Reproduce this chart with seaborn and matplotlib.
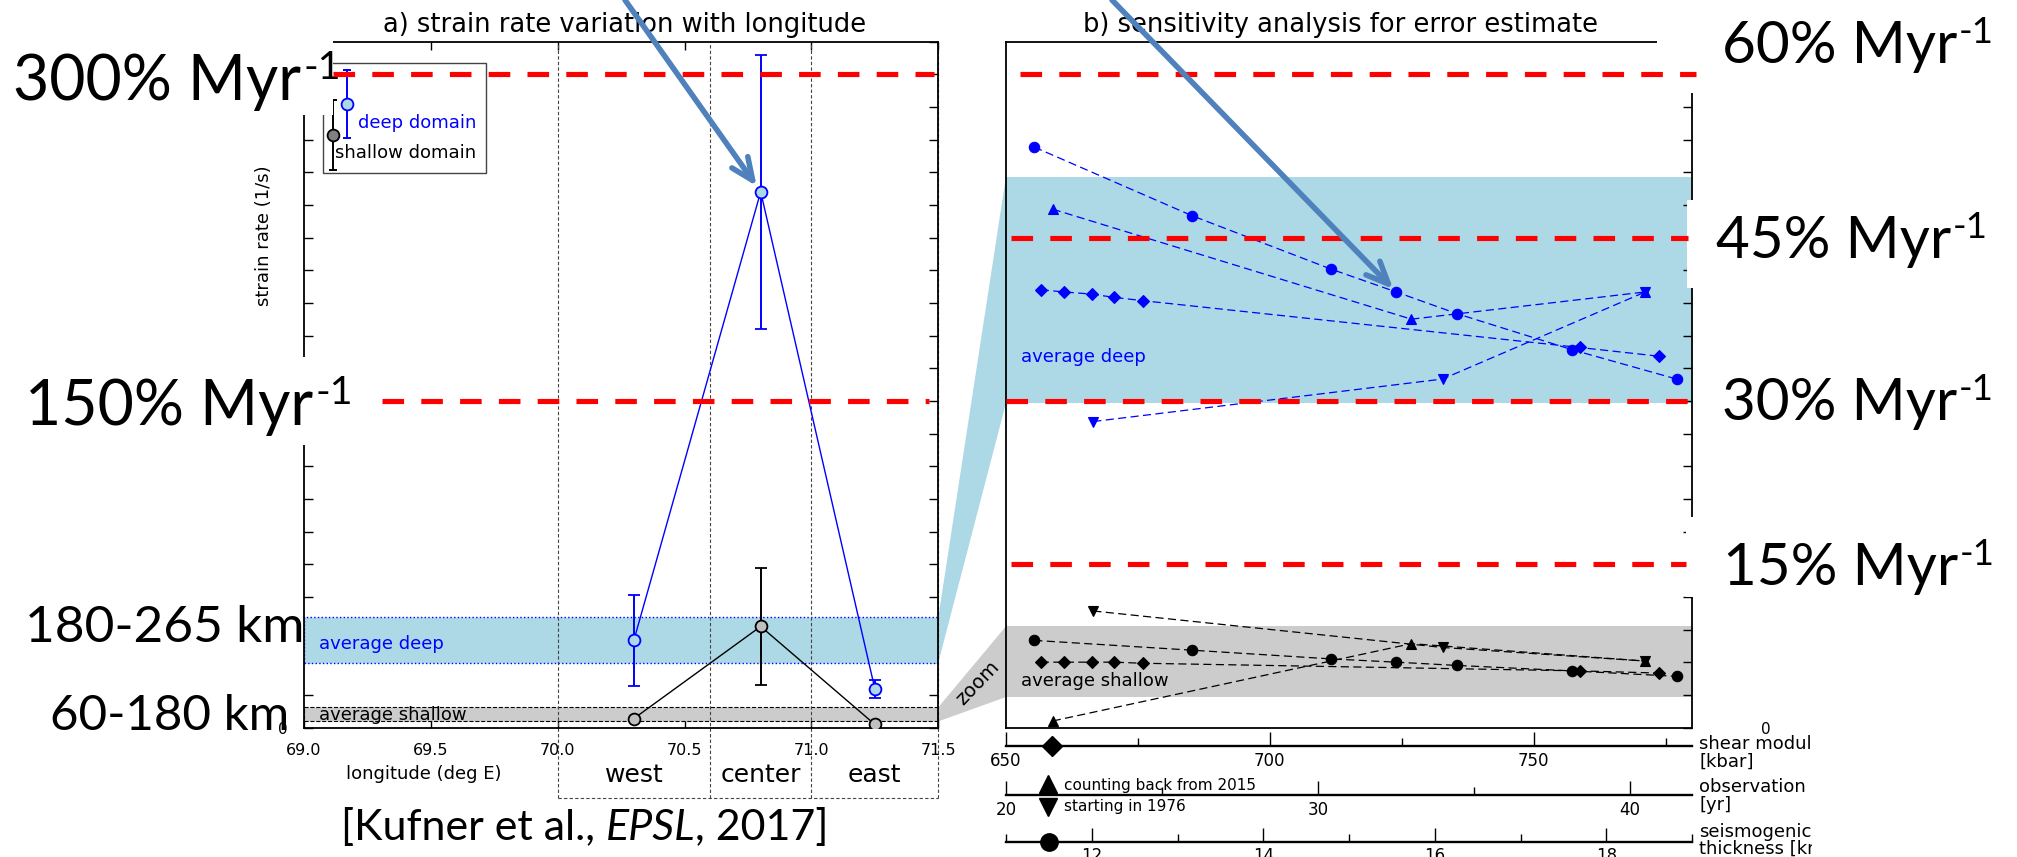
import numpy as np
import pandas as pd
import matplotlib
matplotlib.use("Agg")
import matplotlib.pyplot as plt
import matplotlib.transforms as mtransforms
from matplotlib.lines import Line2D
from matplotlib.patches import Rectangle, Polygon, ConnectionPatch
from matplotlib.ticker import FormatStrFormatter
import seaborn as sns

# ---------------- panel a: strain rate along longitude (% per Myr) ----------------
region_names = ["west", "center", "east"]
region_lon = [70.3, 70.8, 71.25]
region_edges = [70.0, 70.6, 71.0, 71.5]
deep_rate = [40.0, 246.0, 17.7]
deep_err = [21.0, 63.0, 4.2]
shallow_rate = [4.1, 46.4, 1.4]
shallow_err = [0.0, 27.0, 0.0]
avg_deep = [29.8, 50.6]
avg_shallow = [2.8, 9.3]
levels_a = [300, 150]
levels_b = [60, 45, 30, 15]
depth_labels = ["180-265 km", "60-180 km"]

# ---------------- panel b: sensitivity of the estimate (% per Myr) ----------------
shear_kbar = [656.6, 661.0, 666.3, 670.5, 675.9, 758.7, 773.7]
shear_deep = [40.2, 40.0, 39.8, 39.5, 39.2, 34.9, 34.1]
shear_shallow = [6.0, 6.0, 6.0, 6.0, 5.9, 5.2, 5.0]
back_yr = [21.5, 33.0, 40.5]
back_deep = [47.6, 37.5, 40.0]
back_shallow = [0.6, 7.7, 6.1]
start_yr = [22.8, 34.0, 40.5]
start_deep = [28.1, 32.0, 40.0]
start_shallow = [10.7, 7.35, 6.1]
thick_km = [11.33, 13.17, 14.79, 15.55, 16.26, 17.6, 18.82]
thick_deep = [53.3, 47.0, 42.1, 40.0, 38.0, 34.7, 32.0]
thick_shallow = [8.0, 7.1, 6.3, 6.0, 5.7, 5.2, 4.7]

W, H = 2017, 857
sns.set_theme(style="ticks")
plt.rcParams.update({
    "font.family": ["DejaVu Sans"],
    "axes.edgecolor": "black", "xtick.color": "black", "ytick.color": "black",
    "text.color": "black", "axes.labelcolor": "black",
    "axes.linewidth": 1.3,
    "xtick.direction": "in", "ytick.direction": "in",
})

fig = plt.figure(figsize=(W / 100, H / 100), dpi=100)
# pixel coordinates measured from the top-left corner of the canvas
PX = mtransforms.Affine2D().scale(1 / W, -1 / H).translate(0, 1) + fig.transFigure


def box(x0, y0, x1, y1):
    return [x0 / W, 1 - y1 / H, (x1 - x0) / W, (y1 - y0) / H]


ax_a = fig.add_axes(box(304, 41.5, 938.3, 727.5))
ax_b = fig.add_axes(box(1006, 41.5, 1692, 727.5))

# ======================= panel a =======================
ax_a.set_xlim(69.0, 71.5)
ax_a.set_ylim(0, 315)
ax_a.axhspan(*avg_deep, facecolor="lightblue", edgecolor="blue", ls=":", lw=1.0, zorder=1)
ax_a.axhspan(*avg_shallow, facecolor="#cccccc", edgecolor="black", ls="--", lw=0.8, zorder=1)

xt = mtransforms.blended_transform_factory(ax_a.transData, ax_a.transAxes)
y_box = (727.5 - 798.3) / 686
for e in region_edges:
    ax_a.plot([e, e], [y_box, 1], transform=xt, color="#444444", lw=0.8,
              ls=(0, (3, 2)), clip_on=False, zorder=2)
ax_a.plot([region_edges[0], region_edges[-1]], [y_box, y_box], transform=xt,
          color="#444444", lw=0.8, ls=(0, (3, 2)), clip_on=False, zorder=2)
for name, lon in zip(region_names, region_lon):
    ax_a.text(lon, (727.5 - 775) / 686, name, transform=xt, ha="center",
              va="center", fontsize=18)

df_a = pd.DataFrame({
    "lon": region_lon * 2,
    "rate": deep_rate + shallow_rate,
    "err": deep_err + shallow_err,
    "domain": ["deep"] * 3 + ["shallow"] * 3,
})
line_col = {"deep": "blue", "shallow": "black"}
face_col = {"deep": "lightblue", "shallow": "#c0c0c0"}
sns.lineplot(data=df_a, x="lon", y="rate", hue="domain", palette=line_col,
             legend=False, lw=1.0, ax=ax_a, zorder=3, estimator=None, sort=False)
for dom, sub in df_a.groupby("domain"):
    ax_a.errorbar(sub["lon"], sub["rate"], yerr=sub["err"], fmt="o", ms=8.5,
                  mew=1.3, mfc=face_col[dom], mec=line_col[dom],
                  ecolor=line_col[dom], elinewidth=1.4, capsize=4.6,
                  capthick=1.4, zorder=4)

ax_a.text(69.06, 38.3, "average deep", color="blue", fontsize=13, va="center", zorder=5)
ax_a.text(69.06, 5.9, "average shallow", color="black", fontsize=13, va="center", zorder=5)

ax_a.set_xlim(69.0, 71.5)
ax_a.set_ylim(0, 315)
ax_a.set_xticks(np.arange(69.0, 71.51, 0.5))
ax_a.xaxis.set_major_formatter(FormatStrFormatter("%.1f"))
ax_a.tick_params(axis="x", top=True, bottom=True, direction="in", length=6,
                 width=1, labelsize=11.5, pad=11)
ax_a.set_yticks(np.arange(0, 316, 15))
ax_a.set_yticklabels(["0"] + [""] * 21)
ax_a.tick_params(axis="y", left=True, right=True, direction="in", length=6.5,
                 width=1, labelsize=11, pad=12)
ax_a.set_xlabel("longitude (deg E)", fontsize=13)
ax_a.xaxis.set_label_coords(0.189, -0.0685)
ax_a.xaxis.label.set_va("center")
ax_a.set_ylabel("strain rate (1/s)", fontsize=13)
ax_a.yaxis.set_label_coords(-0.0631, 0.717)
ax_a.yaxis.label.set_va("center")
ax_a.set_title("a) strain rate variation with longitude", fontsize=18.5, pad=7,
               x=0.506, y=1.0)

# ======================= panel b =======================
ax_b.set_xlim(650, 780)
ax_b.set_ylim(0, 63)
ax_b.axhspan(*avg_deep, facecolor="lightblue", lw=0, zorder=0.5)
ax_b.axhspan(*avg_shallow, facecolor="#cccccc", lw=0, zorder=0.5)
ax_b.text(652.9, 34.0, "average deep", color="blue", fontsize=13, va="center")
ax_b.text(652.8, 4.3, "average shallow", color="black", fontsize=13, va="center")
ax_b.set_xticks([])
ax_b.set_yticks(np.arange(0, 64, 3))
ax_b.set_yticklabels(["0"] + [""] * 21)
ax_b.tick_params(axis="y", left=False, right=True, labelleft=False,
                 labelright=True, direction="in", length=6.5, width=1,
                 labelsize=11, pad=50)
ax_b.set_title("b) sensitivity analysis for error estimate", fontsize=18.5, pad=7,
               x=0.488, y=1.0)

ax_yr = ax_b.twiny()
ax_km = ax_b.twiny()
dash = (0, (6.5, 3.5))


def sens(ax, x, y, marker, color, ms):
    sns.lineplot(x=x, y=y, ax=ax, color=color, marker=marker, markersize=ms,
                 markeredgecolor=color, markeredgewidth=0.8, linestyle=dash,
                 lw=0.9, estimator=None, sort=False, errorbar=None, zorder=3)


for col, s_y, b_y, st_y, t_y in [
    ("blue", shear_deep, back_deep, start_deep, thick_deep),
    ("black", shear_shallow, back_shallow, start_shallow, thick_shallow),
]:
    sens(ax_b, shear_kbar, s_y, "D", col, 6.2)
    sens(ax_yr, back_yr, b_y, "^", col, 7)
    sens(ax_yr, start_yr, st_y, "v", col, 7)
    sens(ax_km, thick_km, t_y, "o", col, 7.5)

ax_b.set_xlim(650, 780)
ax_b.set_ylim(0, 63)
ax_yr.set_xlim(20, 42)
ax_km.set_xlim(11, 19)
for tw in (ax_yr, ax_km):
    tw.axis("off")
ax_b.set_xlabel("")
ax_b.set_ylabel("")


# parameter scales below panel b
def param_axis(y_line, lo, hi, majors, minors, major_len, minor_len):
    pax = fig.add_axes(box(1006, y_line - 30, 1692, y_line))
    pax.set_xlim(lo, hi)
    pax.set_ylim(0, 1)
    pax.patch.set_visible(False)
    for s in ("left", "right", "top"):
        pax.spines[s].set_visible(False)
    pax.spines["bottom"].set_linewidth(1.7)
    pax.set_yticks([])
    pax.set_xticks(majors)
    pax.set_xticks(minors, minor=True)
    pax.tick_params(axis="x", which="major", direction="in", length=major_len,
                    width=1, labelsize=12, pad=4)
    pax.tick_params(axis="x", which="minor", direction="in", length=minor_len, width=1)
    return pax


p_shear = param_axis(746, 650, 780, [650, 700, 750], [675, 725, 775], 10, 5.5)
p_obs = param_axis(795, 20, 42, [20, 30, 40], [25, 35], 10, 5.5)
p_thk = param_axis(841.5, 11, 19, [12, 14, 16, 18], [11, 13, 15, 17, 19], 10, 5.5)

kt = mtransforms.blended_transform_factory(p_shear.transData, PX)
p_shear.plot([658.7], [746], marker="D", ms=10, color="black", transform=kt, clip_on=False, zorder=5)
kt = mtransforms.blended_transform_factory(p_obs.transData, PX)
p_obs.plot([21.34], [784], marker="^", ms=13, color="black", transform=kt, clip_on=False, zorder=5)
p_obs.plot([21.34], [806.7], marker="v", ms=13, color="black", transform=kt, clip_on=False, zorder=5)
kt = mtransforms.blended_transform_factory(p_thk.transData, PX)
p_thk.plot([11.5], [841.7], marker="o", ms=12.5, color="black", transform=kt, clip_on=False, zorder=5)

for x, y, s in [(1064.3, 785.7, "counting back from 2015"), (1064.3, 806.7, "starting in 1976")]:
    fig.text(x / W, 1 - y / H, s, fontsize=11, va="center", ha="left", zorder=5)
for y, s in [(744, "shear modulus"), (761.7, "[kbar]"), (787.3, "observation period"),
             (805, "[yr]"), (831.7, "seismogenic"), (848.3, "thickness [km]")]:
    fig.text(1699 / W, 1 - y / H, s, fontsize=13, va="center", ha="left", zorder=5)


# zoom wedges linking the bands of both panels
def fig_pt(ax, x, y):
    return fig.transFigure.inverted().transform(ax.transData.transform((x, y)))


for band, col in [(avg_deep, "lightblue"), (avg_shallow, "#cccccc")]:
    pts = [fig_pt(ax_a, 71.5, band[1]), fig_pt(ax_b, 650, band[1]),
           fig_pt(ax_b, 650, band[0]), fig_pt(ax_a, 71.5, band[0])]
    fig.add_artist(Polygon(pts, closed=True, transform=fig.transFigure,
                           facecolor=col, edgecolor="none", zorder=-1))
fig.text(978 / W, 1 - 683 / H, "zoom", rotation=46, ha="center", va="center", fontsize=14, zorder=5)

# legend of panel a
fig.add_artist(Rectangle((323.3, 63.3), 162.7, 109.4, transform=PX, facecolor="white",
                         edgecolor="#444444", lw=1.0, zorder=10))
for x, y0, y1, ym, fc, ec in [(346.7, 70, 138.3, 104.3, "lightblue", "blue"),
                              (333.3, 100, 170, 135, "#808080", "black")]:
    fig.add_artist(Line2D([x, x], [y0, y1], transform=PX, color=ec, lw=1.4,
                          marker="_", ms=5.5, mew=1.4, zorder=11))
    fig.add_artist(Line2D([x], [ym], transform=PX, marker="o", ms=8.5, mfc=fc,
                          mec=ec, mew=1.3, ls="none", zorder=12))
fig.text(358.3 / W, 1 - 122.7 / H, "deep domain", color="blue", fontsize=13, va="center", zorder=12)
fig.text(335 / W, 1 - 153.3 / H, "shallow domain", color="black", fontsize=13, va="center", zorder=12)

# white backing boxes for the large annotations
for x0, y0, x1, y1 in [(0, 20, 332.5, 115), (0, 357, 382, 445), (1657, 0, 2017, 93),
                       (1686.7, 200, 2017, 288.3), (1685.7, 516.7, 2017, 596.7),
                       (1812, 730, 2017, 857)]:
    fig.add_artist(Rectangle((x0, y0), x1 - x0, y1 - y0, transform=PX,
                             facecolor="white", edgecolor="none", zorder=20))

renderer = fig.canvas.get_renderer()
BIG = "Lato"


def big_text(x, y_base, s, size, sup=None, style="normal"):
    t = fig.text(x / W, 1 - y_base / H, s, fontsize=size, family=BIG, style=style,
                 ha="left", va="baseline", zorder=21)
    bb = t.get_window_extent(renderer)
    if sup:
        cap = 0.7165 * size * 100 / 72
        fig.text((bb.x1 + 2) / W, (H - y_base + 0.48 * cap) / H, sup,
                 fontsize=size * 0.63, family=BIG, ha="left", va="baseline", zorder=21)
    return bb


big_text(13.3, 100, f"{levels_a[0]}% Myr", 45, "-1")
big_text(25, 425, f"{levels_a[1]}% Myr", 45, "-1")
big_text(25, 641.7, depth_labels[0], 37)
big_text(50, 730, depth_labels[1], 35.5)
for x, yb, lv in [(1721.7, 63.3, levels_b[0]), (1715.7, 258.3, levels_b[1]),
                  (1721.7, 420, levels_b[2]), (1723, 585, levels_b[3])]:
    big_text(x, yb, f"{lv}% Myr", 42, "-1")

bb = big_text(341, 840, "[Kufner et al.,", 31)
sp = 0.25 * 31 * 100 / 72
bb = big_text(bb.x1 + sp, 840, "EPSL", 31, style="italic")
big_text(bb.x1, 840, ", 2017]", 31)

# reference strain-rate levels
red_a = [(levels_a[0], 0.046, 0.994), (levels_a[1], 0.123, 0.985)]
red_b = [(levels_b[0], 0.0204, 1.0058), (levels_b[1], 0.0073, 0.9937),
         (levels_b[2], 0.0, 0.9942), (levels_b[3], 0.0073, 0.9908)]
for ax, specs in [(ax_a, red_a), (ax_b, red_b)]:
    tr = mtransforms.blended_transform_factory(ax.transAxes, ax.transData)
    for lv, x0, x1 in specs:
        fig.add_artist(Line2D([x0, x1], [lv, lv], transform=tr, color="red", lw=3.7,
                              ls=(0, (4.2, 3.35)), zorder=22))

# pointers to the highlighted estimates
arrow_kw = dict(arrowstyle="->,head_length=1.6,head_width=0.7", color="#4f81bd",
                lw=4, zorder=23)
fig.add_artist(ConnectionPatch(xyA=(625, H), coordsA="figure pixels",
                               xyB=(region_lon[1], deep_rate[1]), coordsB="data",
                               axesB=ax_a, shrinkB=5, **arrow_kw))
fig.add_artist(ConnectionPatch(xyA=(1112, H), coordsA="figure pixels",
                               xyB=(thick_km[3], thick_deep[3]), coordsB="data",
                               axesB=ax_km, shrinkB=3, **arrow_kw))

fig.savefig("out.png", dpi=100)
